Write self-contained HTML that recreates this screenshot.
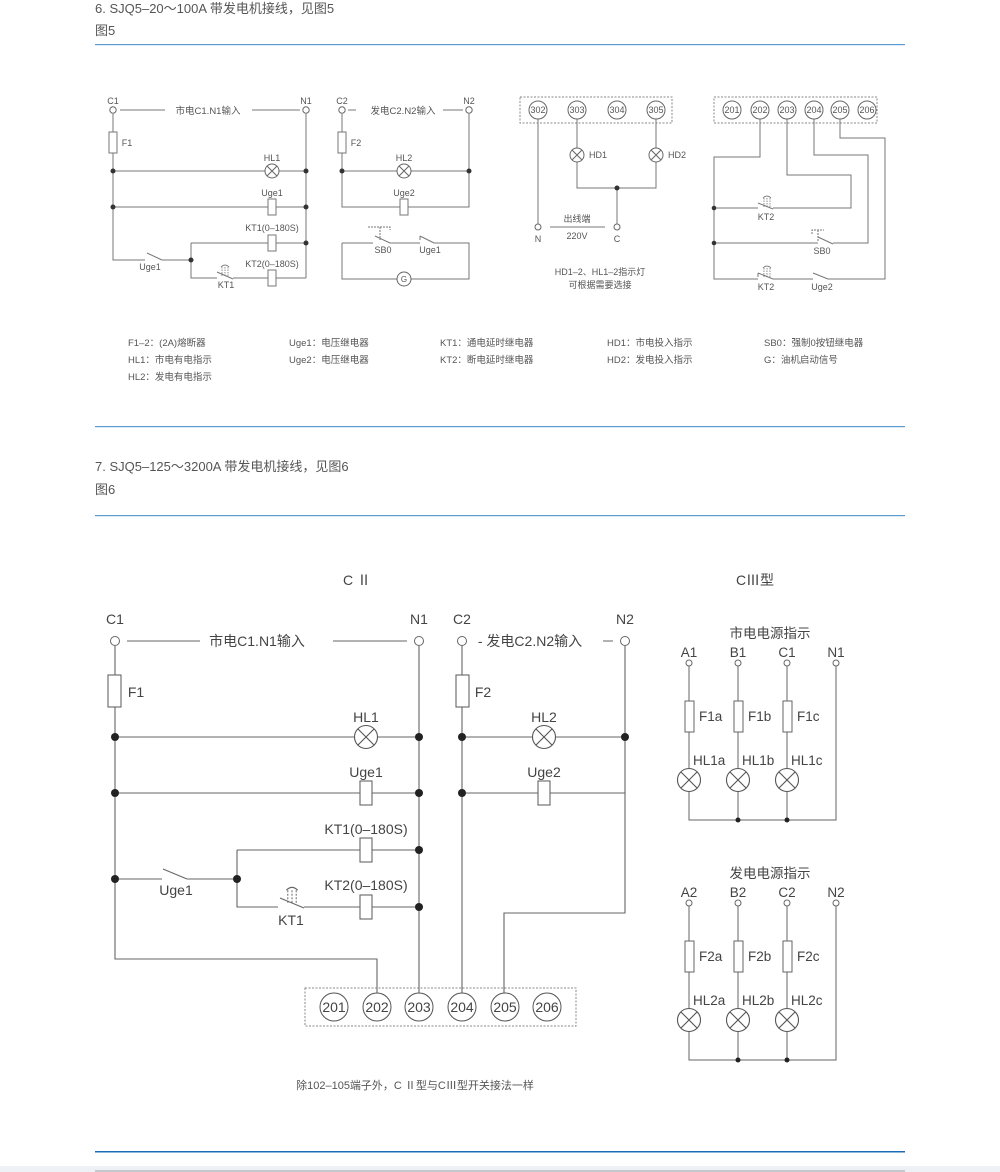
<!DOCTYPE html>
<html><head><meta charset="utf-8"><style>
html,body{margin:0;padding:0;background:#fff;}
body{width:1000px;height:1172px;position:relative;overflow:hidden;font-family:"Liberation Sans","Noto Sans CJK SC",sans-serif;}
svg{position:absolute;left:0;top:0;}
</style></head><body>
<svg width="1000" height="1172" viewBox="0 0 1000 1172" xmlns="http://www.w3.org/2000/svg" font-family="Liberation Sans, Noto Sans CJK SC, sans-serif">
<defs>
<g id="lampS"><circle r="7" fill="#fff" stroke="#666" stroke-width="1"/><path d="M-5,-5L5,5M5,-5L-5,5" stroke="#666" stroke-width="1"/></g>
<g id="lampL"><circle r="11.5" fill="#fff" stroke="#555" stroke-width="1.1"/><path d="M-8,-8L8,8M8,-8L-8,8" stroke="#555" stroke-width="1.1"/></g>
<g id="tS"><path d="M-3,2V-8M0,2V-8M3,2V-8" stroke="#666" stroke-width="0.7" stroke-dasharray="1.5,1" fill="none"/><path d="M-4,-7Q0,-11 4,-7" stroke="#666" stroke-width="0.8" fill="none"/></g>
</defs>

<g fill="#555" font-size="13">
<text x="95" y="13">6. SJQ5–20～100A 带发电机接线，见图5</text>
<text x="95" y="35">图5</text>
<text x="95" y="471">7. SJQ5–125～3200A 带发电机接线，见图6</text>
<text x="95" y="494">图6</text>
</g>
<rect x="95" y="44" width="810" height="1.2" fill="#5b9bd0"/>
<rect x="95" y="426" width="810" height="1.2" fill="#5b9bd0"/>
<rect x="95" y="515" width="810" height="1.2" fill="#5b9bd0"/>
<rect x="95" y="1151" width="810" height="1.5" fill="#1a6db5"/>
<rect x="0" y="1166" width="1000" height="6" fill="#eef1f5"/>
<rect x="95" y="1170" width="810" height="2" fill="#c4c8cc"/>

<!-- ===== Top-left diagram ===== -->
<g stroke="#777" stroke-width="1" fill="none">
<path d="M113,114V260H145M162,260H191M147,253L162,260"/>
<path d="M113,171H265M279,171H306M113,207H268M276,207H306"/>
<path d="M306,114V278"/>
<path d="M191,243V278H217M233,278H268M276,278H306M217,272L233,279"/>
<path d="M191,243H268M276,243H306"/>
<path d="M120,110H165M252,110H300"/>
<rect x="109" y="132" width="8" height="21" fill="#fff"/>
<rect x="268" y="199" width="8" height="16" fill="#fff"/>
<rect x="268" y="235" width="8" height="16" fill="#fff"/>
<rect x="268" y="270" width="8" height="16" fill="#fff"/>
<path d="M342,114V207H400M408,207H469V114M342,171H397M411,171H469"/>
<path d="M348,110H356M443,110H463"/>
<rect x="338" y="132" width="8" height="21" fill="#fff"/>
<rect x="400" y="199" width="8" height="16" fill="#fff"/>
<path d="M342,243V279H397M411,279H469V243H434M420,243H390M373,243H342M375,236L390,243M420,236L434,243M420,236V240"/>
<path d="M368,227H390V230M380,227V240" stroke-dasharray="2,1"/>
</g>
<circle cx="113" cy="110" r="3.2" fill="#fff" stroke="#666"/>
<circle cx="306" cy="110" r="3.2" fill="#fff" stroke="#666"/>
<circle cx="342" cy="110" r="3.2" fill="#fff" stroke="#666"/>
<circle cx="469" cy="110" r="3.2" fill="#fff" stroke="#666"/>
<use href="#lampS" x="272" y="171"/><use href="#lampS" x="404" y="171"/>
<use href="#tS" x="225" y="274"/>
<circle cx="404" cy="279" r="7" fill="#fff" stroke="#666"/>
<g fill="#333"><circle cx="113" cy="171" r="2.5"/><circle cx="306" cy="171" r="2.5"/><circle cx="113" cy="207" r="2.5"/><circle cx="306" cy="207" r="2.5"/><circle cx="306" cy="243" r="2.5"/><circle cx="191" cy="260" r="2.5"/><circle cx="342" cy="171" r="2.5"/><circle cx="469" cy="171" r="2.5"/></g>
<g fill="#555" font-size="9" text-anchor="middle">
<text x="113" y="104">C1</text><text x="306" y="104">N1</text><text x="342" y="104">C2</text><text x="469" y="104">N2</text>
<text x="208" y="114" font-size="9.5">市电C1.N1输入</text><text x="403" y="114" font-size="9.5">发电C2.N2输入</text>
<text x="127" y="146">F1</text><text x="356" y="146">F2</text>
<text x="272" y="161">HL1</text><text x="404" y="161">HL2</text>
<text x="272" y="196">Uge1</text><text x="404" y="196">Uge2</text>
<text x="272" y="231">KT1(0–180S)</text><text x="272" y="267">KT2(0–180S)</text>
<text x="150" y="270">Uge1</text><text x="226" y="288">KT1</text>
<text x="383" y="253">SB0</text><text x="430" y="253">Uge1</text>
<text x="404" y="282" font-size="8">G</text>
</g>

<!-- ===== Top-middle ===== -->
<rect x="520" y="97" width="152" height="26" fill="none" stroke="#888" stroke-dasharray="2,1.5"/>
<g stroke="#777" fill="none">
<path d="M538,119V224M577,119V148M577,162V188H656V162M656,119V148M617,188V224M550,227H605"/>
</g>
<g font-size="9" fill="#555" text-anchor="middle">
<circle cx="538" cy="110" r="9" fill="#fff" stroke="#666"/><text x="538" y="113">302</text>
<circle cx="577" cy="110" r="9" fill="#fff" stroke="#666"/><text x="577" y="113">303</text>
<circle cx="617" cy="110" r="9" fill="#fff" stroke="#666"/><text x="617" y="113">304</text>
<circle cx="656" cy="110" r="9" fill="#fff" stroke="#666"/><text x="656" y="113">305</text>
</g>
<use href="#lampS" x="577" y="155"/><use href="#lampS" x="656" y="155"/>
<circle cx="617" cy="188" r="2.5" fill="#333"/>
<circle cx="538" cy="227" r="3" fill="#fff" stroke="#666"/><circle cx="617" cy="227" r="3" fill="#fff" stroke="#666"/>
<g font-size="9" fill="#555" text-anchor="middle">
<text x="598" y="158">HD1</text><text x="677" y="158">HD2</text>
<text x="538" y="242">N</text><text x="617" y="242">C</text>
<text x="577" y="222">出线端</text><text x="577" y="239">220V</text>
<text x="600" y="275">HD1–2、HL1–2指示灯</text><text x="600" y="288">可根据需要选接</text>
</g>

<!-- ===== Top-right ===== -->
<rect x="714" y="97" width="163" height="26" fill="none" stroke="#888" stroke-dasharray="2,1.5"/>
<g stroke="#777" fill="none">
<path d="M760,119V157H714V279H758M773,279H813M828,279H885V138H840V119"/>
<path d="M787,119V175H851V208H773M758,208H714"/>
<path d="M814,119V155H868V243H833M818,243H714"/>
<path d="M758,203L773,209M758,273L773,279M758,273V277M818,237L833,244M813,273L828,279"/>
<path d="M812,234V230H824M818,230V241" stroke-dasharray="2,1"/>
</g>
<use href="#tS" x="767" y="205"/><use href="#tS" x="767" y="275"/>
<g fill="#333"><circle cx="714" cy="208" r="2.3"/><circle cx="714" cy="243" r="2.3"/></g>
<g font-size="9" fill="#555" text-anchor="middle">
<circle cx="732" cy="110" r="9" fill="#fff" stroke="#666"/><text x="732" y="113">201</text>
<circle cx="760" cy="110" r="9" fill="#fff" stroke="#666"/><text x="760" y="113">202</text>
<circle cx="787" cy="110" r="9" fill="#fff" stroke="#666"/><text x="787" y="113">203</text>
<circle cx="814" cy="110" r="9" fill="#fff" stroke="#666"/><text x="814" y="113">204</text>
<circle cx="840" cy="110" r="9" fill="#fff" stroke="#666"/><text x="840" y="113">205</text>
<circle cx="867" cy="110" r="9" fill="#fff" stroke="#666"/><text x="867" y="113">206</text>
<text x="766" y="220">KT2</text><text x="822" y="254">SB0</text><text x="766" y="290">KT2</text><text x="822" y="290">Uge2</text>
</g>

<g font-size="9.5" fill="#555">
<text x="128" y="346">F1–2：(2A)熔断器</text><text x="128" y="363">HL1：市电有电指示</text><text x="128" y="380">HL2：发电有电指示</text>
<text x="289" y="346">Uge1：电压继电器</text><text x="289" y="363">Uge2：电压继电器</text>
<text x="440" y="346">KT1：通电延时继电器</text><text x="440" y="363">KT2：断电延时继电器</text>
<text x="607" y="346">HD1：市电投入指示</text><text x="607" y="363">HD2：发电投入指示</text>
<text x="764" y="346">SB0：强制0按钮继电器</text><text x="764" y="363">G：油机启动信号</text>
</g>

<!-- ===== Bottom C II ===== -->
<g stroke="#666" stroke-width="1.1" fill="none">
<path d="M115,646V879H162M187,879H237M163,869L187,879"/>
<path d="M115,879V959H377V993"/>
<path d="M115,737H354M378,737H419M115,793H360M372,793H419"/>
<path d="M237,850H360M372,850H419M237,850V907H278M304,907H360M372,907H419M280,898L304,908"/>
<path d="M419,646V993M462,646V993"/>
<path d="M625,646V913H504V993"/>
<path d="M462,737H532M556,737H625M462,793H538M550,793H625"/>
<path d="M127,641H200M333,641H407M603,641H613"/>
<rect x="108" y="675" width="13" height="32" fill="#fff"/>
<rect x="360" y="781" width="12" height="24" fill="#fff"/>
<rect x="360" y="838" width="12" height="24" fill="#fff"/>
<rect x="360" y="895" width="12" height="24" fill="#fff"/>
<rect x="456" y="675" width="13" height="32" fill="#fff"/>
<rect x="538" y="781" width="12" height="24" fill="#fff"/>
</g>
<g transform="translate(292,900) scale(1.4)"><use href="#tS"/></g>
<circle cx="115" cy="641" r="4.5" fill="#fff" stroke="#666"/><circle cx="419" cy="641" r="4.5" fill="#fff" stroke="#666"/>
<circle cx="462" cy="641" r="4.5" fill="#fff" stroke="#666"/><circle cx="625" cy="641" r="4.5" fill="#fff" stroke="#666"/>
<use href="#lampL" x="366" y="737"/><use href="#lampL" x="544" y="737"/>
<g fill="#222"><circle cx="115" cy="737" r="4"/><circle cx="419" cy="737" r="4"/><circle cx="115" cy="793" r="4"/><circle cx="419" cy="793" r="4"/><circle cx="419" cy="850" r="4"/><circle cx="115" cy="879" r="4"/><circle cx="237" cy="879" r="4"/><circle cx="419" cy="907" r="4"/><circle cx="462" cy="737" r="4"/><circle cx="625" cy="737" r="4"/><circle cx="462" cy="793" r="4"/></g>
<rect x="305" y="988" width="271" height="38" fill="none" stroke="#888" stroke-dasharray="2,1.5"/>
<g font-size="14" fill="#444" text-anchor="middle">
<circle cx="334" cy="1007" r="14" fill="#fff" stroke="#555"/><text x="334" y="1012">201</text>
<circle cx="377" cy="1007" r="14" fill="#fff" stroke="#555"/><text x="377" y="1012">202</text>
<circle cx="419" cy="1007" r="14" fill="#fff" stroke="#555"/><text x="419" y="1012">203</text>
<circle cx="462" cy="1007" r="14" fill="#fff" stroke="#555"/><text x="462" y="1012">204</text>
<circle cx="505" cy="1007" r="14" fill="#fff" stroke="#555"/><text x="505" y="1012">205</text>
<circle cx="547" cy="1007" r="14" fill="#fff" stroke="#555"/><text x="547" y="1012">206</text>
<text x="357" y="585">C Ⅱ</text><text x="755" y="585">CⅢ型</text>
<text x="115" y="624">C1</text><text x="419" y="624">N1</text><text x="462" y="624">C2</text><text x="625" y="624">N2</text>
<text x="257" y="646">市电C1.N1输入</text><text x="530" y="646">- 发电C2.N2输入</text>
<text x="136" y="697">F1</text><text x="483" y="697">F2</text>
<text x="366" y="722">HL1</text><text x="544" y="722">HL2</text>
<text x="366" y="777">Uge1</text><text x="544" y="777">Uge2</text>
<text x="366" y="834">KT1(0–180S)</text><text x="366" y="890">KT2(0–180S)</text>
<text x="176" y="895">Uge1</text><text x="291" y="925">KT1</text>
</g>
<text x="415" y="1089" font-size="11" fill="#555" text-anchor="middle">除102–105端子外，C Ⅱ型与CⅢ型开关接法一样</text>

<!-- ===== CIII ===== -->
<g id="c3a">
<g stroke="#666" fill="none" stroke-width="1">
<path d="M689,666V769M689,791V820H836V666M738,666V769M738,791V820M787,666V769M787,791V820"/>
<rect x="685" y="701" width="9" height="31" fill="#fff"/><rect x="734" y="701" width="9" height="31" fill="#fff"/><rect x="783" y="701" width="9" height="31" fill="#fff"/>
</g>
<g fill="#fff" stroke="#666"><circle cx="689" cy="663" r="3"/><circle cx="738" cy="663" r="3"/><circle cx="787" cy="663" r="3"/><circle cx="836" cy="663" r="3"/></g>
<use href="#lampL" x="689" y="780"/><use href="#lampL" x="738" y="780"/><use href="#lampL" x="787" y="780"/>
<circle cx="738" cy="820" r="2.5" fill="#222"/><circle cx="787" cy="820" r="2.5" fill="#222"/>
</g>
<use href="#c3a" y="240"/>
<g font-size="13.5" fill="#444">
<text x="770" y="638" text-anchor="middle">市电电源指示</text>
<text x="689" y="657" text-anchor="middle">A1</text><text x="738" y="657" text-anchor="middle">B1</text><text x="787" y="657" text-anchor="middle">C1</text><text x="836" y="657" text-anchor="middle">N1</text>
<text x="699" y="721">F1a</text><text x="748" y="721">F1b</text><text x="797" y="721">F1c</text>
<text x="693" y="765">HL1a</text><text x="742" y="765">HL1b</text><text x="791" y="765">HL1c</text>
<text x="770" y="878" text-anchor="middle">发电电源指示</text>
<text x="689" y="897" text-anchor="middle">A2</text><text x="738" y="897" text-anchor="middle">B2</text><text x="787" y="897" text-anchor="middle">C2</text><text x="836" y="897" text-anchor="middle">N2</text>
<text x="699" y="961">F2a</text><text x="748" y="961">F2b</text><text x="797" y="961">F2c</text>
<text x="693" y="1005">HL2a</text><text x="742" y="1005">HL2b</text><text x="791" y="1005">HL2c</text>
</g>
</svg>
</body></html>
